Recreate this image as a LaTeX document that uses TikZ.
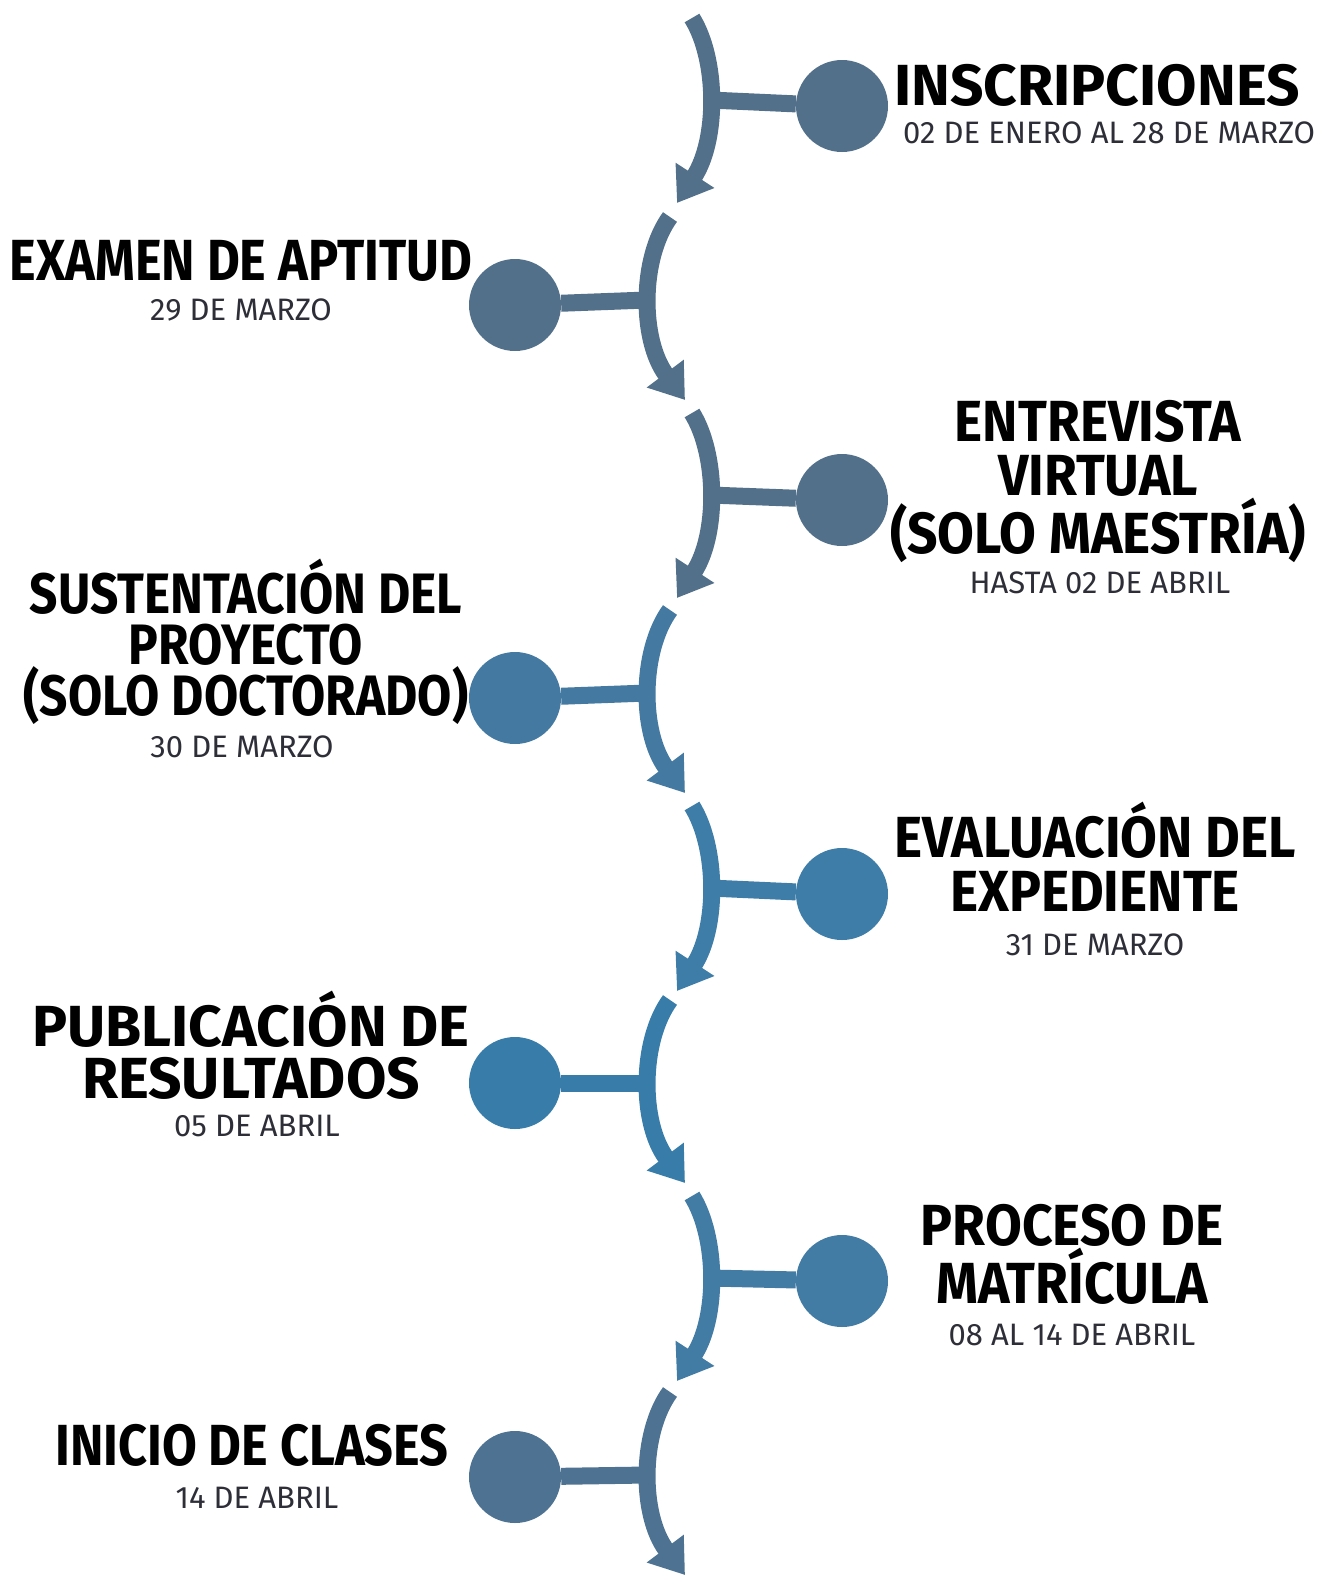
\documentclass[tikz,border=0pt]{standalone}
\usepackage{fontspec}
\setmainfont{Fira Sans}
\newfontfamily\widefont[FakeStretch=1.01]{Fira Sans}
\newfontfamily\midfont[FakeStretch=0.92]{Fira Sans}
\newfontfamily\narrowfont[FakeStretch=0.87]{Fira Sans}
\usepackage{xcolor}
\usetikzlibrary{arrows.meta}

\definecolor{slate}{HTML}{52708A}
\definecolor{slatemid}{HTML}{4E7392}
\definecolor{steel}{HTML}{4479A1}
\definecolor{steelmid}{HTML}{427BA3}
\definecolor{ocean}{HTML}{3E7DA8}
\definecolor{oceandeep}{HTML}{387CAA}
\definecolor{dategray}{HTML}{2E2E38}

\begin{document}
\begin{tikzpicture}[x=1pt, y=-1pt,
    spine/.style={line width=17pt, -{Triangle[width=44pt,length=33pt]}},
    stem/.style={line width=17pt},
    dot/.style={circle, inner sep=0pt, minimum size=92pt},
    title/.style={font=#1\bfseries\fontsize{58}{54}\selectfont, align=center, anchor=base, inner sep=0pt},
    datetext/.style={font=\fontsize{31}{31}\selectfont, text=dategray, anchor=base, inner sep=0pt}]
    \useasboundingbox (0,0) rectangle (1329,1575);

    % joints on the spine
    \coordinate (j1) at (710,100);
    \coordinate (j2) at (647,300);
    \coordinate (j3) at (710,495);
    \coordinate (j4) at (647,693);
    \coordinate (j5) at (710,888);
    \coordinate (j6) at (647,1083);
    \coordinate (j7) at (710,1278);
    \coordinate (j8) at (647,1475);

    % spine arcs
    \draw[spine, slate] (692,18) .. controls (718,60) and (718,140) .. (677,203);
    \draw[spine, slate] (670,217) .. controls (640,258) and (640,340) .. (685,400);
    \draw[spine, slate] (692,413) .. controls (718,455) and (718,535) .. (677,598);
    \draw[spine, steel] (670,610) .. controls (640,651) and (640,733) .. (685,793);
    \draw[spine, ocean] (692,806) .. controls (718,848) and (718,928) .. (677,991);
    \draw[spine, oceandeep] (670,1000) .. controls (640,1041) and (640,1123) .. (685,1183);
    \draw[spine, steelmid] (692,1196) .. controls (718,1238) and (718,1318) .. (677,1381);
    \draw[spine, slatemid] (670,1392) .. controls (640,1433) and (640,1515) .. (685,1575);

    % dots
    \node[dot, fill=slate] (d1) at (842,106) {};
    \node[dot, fill=slate] (d2) at (515,305) {};
    \node[dot, fill=slate] (d3) at (842,500) {};
    \node[dot, fill=steel] (d4) at (515,698) {};
    \node[dot, fill=ocean] (d5) at (842,894) {};
    \node[dot, fill=oceandeep] (d6) at (515,1083) {};
    \node[dot, fill=steelmid] (d7) at (842,1281) {};
    \node[dot, fill=slatemid] (d8) at (515,1477) {};

    \draw[stem, slate] (j1) -- (d1);
    \draw[stem, slate] (j2) -- (d2);
    \draw[stem, slate] (j3) -- (d3);
    \draw[stem, steel] (j4) -- (d4);
    \draw[stem, ocean] (j5) -- (d5);
    \draw[stem, oceandeep] (j6) -- (d6);
    \draw[stem, steelmid] (j7) -- (d7);
    \draw[stem, slatemid] (j8) -- (d8);

    % labels (anchor = base of the last line)
    \node[title=\widefont] (t1) at (1097,105) {INSCRIPCIONES};
    \node[datetext] (s1) at (1109,143) {02 DE ENERO AL 28 DE MARZO};

    \node[title=\narrowfont] (t2) at (241,280) {EXAMEN DE APTITUD};
    \node[datetext] (s2) at (241,320) {29 DE MARZO};

    \node[title=\midfont] (t3) at (1098,553) {ENTREVISTA\\VIRTUAL\\(SOLO MAESTRÍA)};
    \node[datetext] (s3) at (1100,593) {HASTA 02 DE ABRIL};

    \node[title=\narrowfont, font=\narrowfont\bfseries\fontsize{57}{51}\selectfont] (t4) at (246,715) {SUSTENTACIÓN DEL\\PROYECTO\\(SOLO DOCTORADO)};
    \node[datetext] (s4) at (242,757) {30 DE MARZO};

    \node[title=\midfont] (t5) at (1095,911) {EVALUACIÓN DEL\\EXPEDIENTE};
    \node[datetext] (s5) at (1095,955) {31 DE MARZO};

    \node[title=\widefont, font=\widefont\bfseries\fontsize{58}{52}\selectfont] (t6) at (251,1098) {PUBLICACIÓN DE\\RESULTADOS};
    \node[datetext] (s6) at (257,1136) {05 DE ABRIL};

    \node[title=\midfont, font=\midfont\bfseries\fontsize{58}{51}\selectfont] (t7) at (1072,1303) {PROCESO DE\\MATRÍCULA};
    \node[datetext] (s7) at (1072,1345) {08 AL 14 DE ABRIL};

    \node[title=\narrowfont] (t8) at (252,1465) {INICIO DE CLASES};
    \node[datetext] (s8) at (257,1508) {14 DE ABRIL};
\end{tikzpicture}
\end{document}
